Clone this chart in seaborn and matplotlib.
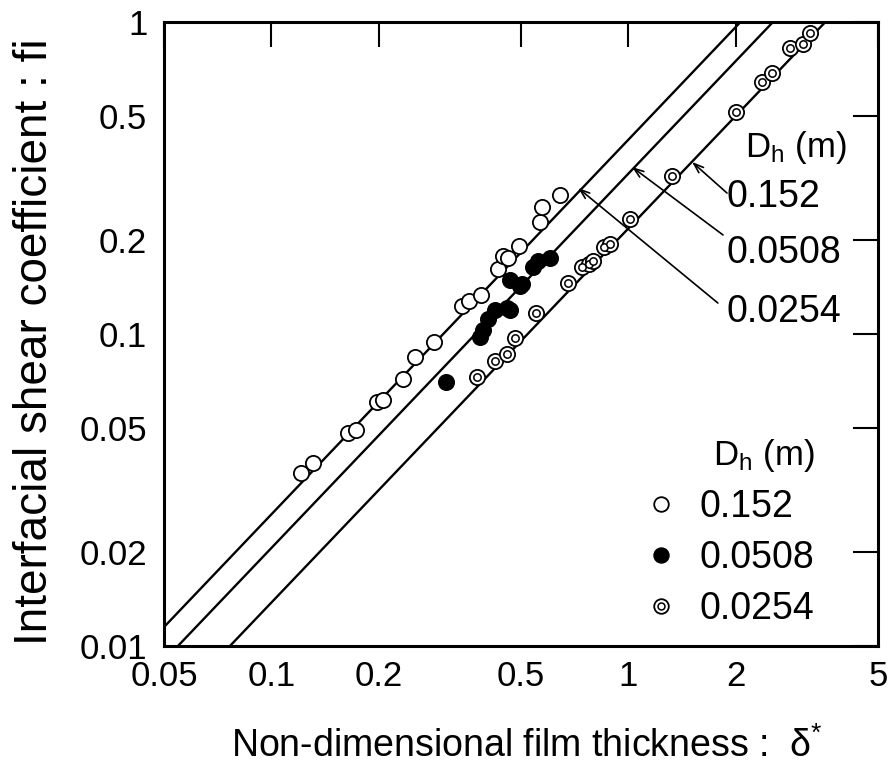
import matplotlib
matplotlib.use("Agg")
import matplotlib.pyplot as plt
from matplotlib.lines import Line2D
from matplotlib.legend_handler import HandlerTuple
from matplotlib.ticker import FixedLocator, FixedFormatter, NullLocator
import seaborn as sns
import pandas as pd

# ---------------- data ----------------
x_152 = [0.121, 0.131, 0.164, 0.173, 0.197, 0.205, 0.233, 0.253, 0.286, 0.341,
         0.358, 0.386, 0.431, 0.444, 0.459, 0.493, 0.565, 0.571, 0.643]
y_152 = [0.0358, 0.0386, 0.0482, 0.0492, 0.0607, 0.0614, 0.0717, 0.0846, 0.0941, 0.123,
         0.128, 0.133, 0.162, 0.178, 0.175, 0.191, 0.229, 0.255, 0.279]

x_0508 = [0.308, 0.384, 0.392, 0.405, 0.423, 0.456, 0.466, 0.466, 0.497, 0.502,
          0.541, 0.559, 0.603]
y_0508 = [0.070, 0.098, 0.103, 0.112, 0.119, 0.121, 0.119, 0.149, 0.142, 0.145,
          0.164, 0.171, 0.175]

x_0254 = [0.376, 0.423, 0.456, 0.482, 0.551, 0.679, 0.740, 0.777, 0.797, 0.854,
          0.888, 1.01, 1.327, 1.997, 2.36, 2.52, 2.835, 3.09, 3.22]
y_0254 = [0.0730, 0.0821, 0.0863, 0.0971, 0.117, 0.146, 0.164, 0.168, 0.172, 0.190,
          0.195, 0.233, 0.322, 0.516, 0.644, 0.688, 0.824, 0.850, 0.920]

# correlation lines (end points read where they meet the frame)
line_x = {"0.152": [0.05, 2.06], "0.0508": [0.0547, 2.54], "0.0254": [0.0765, 3.56]}
line_y = {"0.152": [0.0115, 1.0], "0.0508": [0.01, 1.0], "0.0254": [0.01, 1.0]}

# annotation arrows: tip on line, tail at label
arrow_labels = ["0.152", "0.0508", "0.0254"]
arrow_tip_x = [1.507, 1.023, 0.7226]
arrow_tip_y = [0.356, 0.343, 0.2938]
arrow_tail_x = [1.888, 1.84, 1.78]
arrow_tail_y = [0.283, 0.2077, 0.1257]

x_ticks = [0.05, 0.1, 0.2, 0.5, 1, 2, 5]
x_ticklabels = ["0.05", "0.1", "0.2", "0.5", "1", "2", "5"]
y_ticks = [0.01, 0.02, 0.05, 0.1, 0.2, 0.5, 1]
y_ticklabels = ["0.01", "0.02", "0.05", "0.1", "0.2", "0.5", "1"]

legend_labels = ["0.152", "0.0508", "0.0254"]

# ---------------- style ----------------
sns.set_style("white")
FONT = "Liberation Sans"
plt.rcParams["font.family"] = [FONT, "DejaVu Sans"]
plt.rcParams["text.color"] = "black"
plt.rcParams["axes.labelcolor"] = "black"
plt.rcParams["xtick.color"] = "black"
plt.rcParams["ytick.color"] = "black"
plt.rcParams["mathtext.fontset"] = "custom"
plt.rcParams["mathtext.rm"] = FONT
plt.rcParams["mathtext.it"] = FONT + ":italic"
plt.rcParams["mathtext.bf"] = FONT + ":bold"
plt.rcParams["mathtext.sf"] = FONT

df = pd.concat([
    pd.DataFrame({"delta": x_152, "fi": y_152, "Dh": "0.152"}),
    pd.DataFrame({"delta": x_0508, "fi": y_0508, "Dh": "0.0508"}),
    pd.DataFrame({"delta": x_0254, "fi": y_0254, "Dh": "0.0254"}),
], ignore_index=True)

W, H = 890, 772
fig = plt.figure(figsize=(W / 100, H / 100), dpi=100)
ax = fig.add_axes([164 / W, 1 - 646 / H, 714 / W, 624 / H])
ax.set_xscale("log")
ax.set_yscale("log")
ax.set_xlim(0.05, 5)
ax.set_ylim(0.01, 1)

for key in line_x:
    ax.plot(line_x[key], line_y[key], color="black", lw=1.7, zorder=2)

ms_s = 120
sns.scatterplot(data=df[df.Dh == "0.152"], x="delta", y="fi", ax=ax, marker="o",
                s=ms_s, color="white", edgecolor="black", linewidth=1.3, zorder=3, legend=False)
sns.scatterplot(data=df[df.Dh == "0.0508"], x="delta", y="fi", ax=ax, marker="o",
                s=ms_s, color="black", edgecolor="black", linewidth=1.3, zorder=3, legend=False)
sns.scatterplot(data=df[df.Dh == "0.0254"], x="delta", y="fi", ax=ax, marker="o",
                s=ms_s, color="white", edgecolor="black", linewidth=1.3, zorder=3, legend=False)
sns.scatterplot(data=df[df.Dh == "0.0254"], x="delta", y="fi", ax=ax, marker="o",
                s=28, color="white", edgecolor="black", linewidth=1.1, zorder=4, legend=False)

# arrows and labels
for lab, tx, ty, sx, sy in zip(arrow_labels, arrow_tip_x, arrow_tip_y, arrow_tail_x, arrow_tail_y):
    ax.annotate("", xy=(tx, ty), xytext=(sx, sy),
                arrowprops=dict(arrowstyle="->,head_length=0.7,head_width=0.25",
                                lw=1.2, color="black", shrinkA=0, shrinkB=0))

txt_x = (727 - 164) / 714
ax.text((745 - 164) / 714, (646 - 157) / 624, r"D$_{\mathrm{h}}$ (m)", transform=ax.transAxes,
        fontsize=25, ha="left", va="baseline", color="black")
for lab, py in zip(arrow_labels, [207, 263, 322]):
    ax.text(txt_x, (646 - py) / 624, lab, transform=ax.transAxes,
            fontsize=27, ha="left", va="baseline", color="black")

# ticks
ax.xaxis.set_major_locator(FixedLocator(x_ticks))
ax.xaxis.set_major_formatter(FixedFormatter(x_ticklabels))
ax.yaxis.set_major_locator(FixedLocator(y_ticks))
ax.yaxis.set_major_formatter(FixedFormatter(y_ticklabels))
ax.xaxis.set_minor_locator(NullLocator())
ax.yaxis.set_minor_locator(NullLocator())
ax.tick_params(which="major", direction="in", length=18, width=1.5, color="black",
               top=True, right=True, labelsize=25, labelcolor="black")
ax.tick_params(axis="x", pad=10)
ax.tick_params(axis="y", pad=12)
for sp in ax.spines.values():
    sp.set_linewidth(2.2)
    sp.set_color("black")
ax.grid(False)

ax.set_xlabel(r"Non-dimensional film thickness :  δ$^{*}$", fontsize=27, color="black")
ax.set_ylabel("Interfacial shear coefficient : fi", fontsize=33, color="black")
ax.xaxis.label.set_va("baseline")
ax.xaxis.set_label_coords((527 - 164) / 714, (646 - 757) / 624)
ax.yaxis.label.set_va("baseline")
ax.yaxis.set_label_coords((47 - 164) / 714, (646 - 342) / 624)

# legend
h1 = Line2D([], [], ls="none", marker="o", ms=10.5, mfc="white", mec="black", mew=1.3)
h2 = Line2D([], [], ls="none", marker="o", ms=10.5, mfc="black", mec="black", mew=1.3)
h3o = Line2D([], [], ls="none", marker="o", ms=10.5, mfc="white", mec="black", mew=1.3)
h3i = Line2D([], [], ls="none", marker="o", ms=5, mfc="white", mec="black", mew=1.1)
leg = ax.legend([h1, h2, (h3o, h3i)], legend_labels,
                handler_map={tuple: HandlerTuple(ndivide=1)},
                title=r"D$_{\mathrm{h}}$ (m)", title_fontsize=25, fontsize=27,
                frameon=False, loc="lower left",
                bbox_to_anchor=((650 - 164) / 714, (646 - 627) / 624),
                borderpad=0, borderaxespad=0, handlelength=0.6, handletextpad=0.73,
                labelspacing=0.4, alignment="right", labelcolor="black")
leg.get_title().set_color("black")

fig.savefig("out.png", dpi=100, facecolor="white")
